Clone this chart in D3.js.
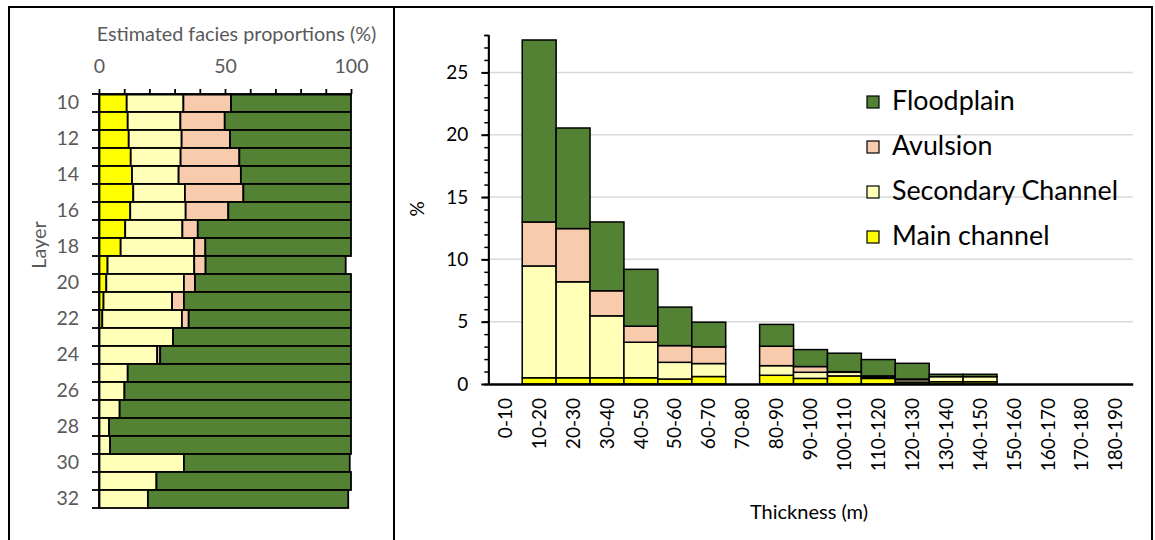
<!DOCTYPE html>
<html><head><meta charset="utf-8">
<script src="https://cdn.jsdelivr.net/npm/d3@7"></script>
<style>
html,body{margin:0;padding:0;background:#fff;}
svg{display:block;font-family:Lato,"Open Sans",sans-serif;}
</style></head>
<body>
<svg id="c" width="1155" height="540"></svg>
<script>
// ---------- Left panel data (layer facies proportions, %) ----------
const layers = [10,11,12,13,14,15,16,17,18,19,20,21,22,23,24,25,26,27,28,29,30,31,32];
const layerMain       = [11,11.4,11.8,12.6,13.1,13.6,12.4,10.4,8.6,3.4,2.9,1.8,1.3,0,0,0,0,0,0,0,0,0,0];
const layerSecondary  = [22.5,20.9,21,19.8,18.5,20.5,22,22.7,29.2,34.4,30.8,27.2,31.6,29.4,23.1,11.4,10.1,8.2,4,4.4,33.7,22.8,19.4];
const layerAvulsion   = [18.9,17.6,19.2,23.3,24.7,23.2,16.9,6.1,4.4,4.5,4.4,4.7,2.7,0,1.2,0,0,0,0,0,0,0,0];
const layerFloodplain = [47.6,50.1,48,44.3,43.7,42.7,48.7,60.8,57.8,55.6,61.9,66.3,64.4,70.6,75.7,88.6,89.9,91.8,96,95.6,65.8,77.2,79.5];
const propTicks = [0,10,20,30,40,50,60,70,80,90,100];
const propLabels = [0,50,100];

// ---------- Right panel data (thickness histogram, %) ----------
const thickCats = ["0-10","10-20","20-30","30-40","40-50","50-60","60-70","70-80","80-90","90-100","100-110","110-120","120-130","130-140","140-150","150-160","160-170","170-180","180-190"];
const thickMain       = [0,0.5,0.5,0.5,0.5,0.4,0.6,0,0.7,0.45,0.65,0.45,0.15,0.18,0.18,0,0,0,0];
const thickSecondary  = [0,8.97,7.7,4.97,2.85,1.34,1.04,0,0.77,0.49,0.29,0.1,0.2,0.41,0.41,0,0,0,0];
const thickAvulsion   = [0,3.53,4.27,2.01,1.29,1.34,1.34,0,1.56,0.46,0.05,0.1,0.05,0,0,0,0,0,0];
const thickFloodplain = [0,14.6,8.07,5.52,4.56,3.09,1.98,0,1.75,1.36,1.48,1.31,1.26,0.19,0.19,0,0,0,0];
const pctMajor = [0,5,10,15,20,25];
const pctMinor = d3.range(0,29,1);

const seriesKeys = ["main","secondary","avulsion","floodplain"];
const seriesNames = {main:"Main channel",secondary:"Secondary Channel",avulsion:"Avulsion",floodplain:"Floodplain"};
const colors = {main:"#FFFF00",secondary:"#FFFFB7",avulsion:"#F8CBAD",floodplain:"#548235"};

const svg = d3.select("#c");

// ---------- Frame ----------
const frame = svg.append("g").attr("stroke","#000").attr("stroke-width",2);
frame.append("line").attr("x1",8).attr("x2",1153).attr("y1",7).attr("y2",7);
frame.append("line").attr("x1",9).attr("x2",9).attr("y1",6).attr("y2",540);
frame.append("line").attr("x1",394).attr("x2",394).attr("y1",6).attr("y2",540);
frame.append("line").attr("x1",1152).attr("x2",1152).attr("y1",6).attr("y2",540);

// ================= LEFT PANEL =================
const gray = "#595959";
const leftRows = layers.map((l,i)=>({layer:l, main:layerMain[i], secondary:layerSecondary[i], avulsion:layerAvulsion[i], floodplain:layerFloodplain[i]}));
const xL = d3.scaleLinear().domain([0,100]).range([99,351]);
const yL = d3.scaleBand().domain(layers).range([94,508]).padding(0);
const stackL = d3.stack().keys(seriesKeys)(leftRows);

const gL = svg.append("g");
stackL.forEach(s=>{
  gL.append("g").selectAll("rect").data(s).join("rect")
    .attr("x",d=>xL(d[0])).attr("y",d=>yL(d.data.layer))
    .attr("width",d=>Math.max(0,xL(d[1])-xL(d[0]))).attr("height",yL.bandwidth())
    .attr("fill",colors[s.key]).attr("stroke","#000").attr("stroke-width",1.8);
});

// top axis
const axTop = gL.append("g").attr("transform","translate(0,94)")
  .call(d3.axisTop(xL).tickValues(propTicks).tickSize(5).tickSizeOuter(0).tickPadding(16)
    .tickFormat(d=>propLabels.includes(d)?d:""));
axTop.selectAll("path,line").attr("stroke","#000").attr("stroke-width",1.8);
axTop.selectAll("text").attr("fill",gray).style("font-size","19.5px").style("font-family","Lato");

// left axis
const axLeft = gL.append("g").attr("transform","translate(99,0)")
  .call(d3.axisLeft(yL).tickSize(0).tickPadding(20).tickFormat(d=>d%2===0?d:""));
axLeft.select("path").attr("stroke","#000").attr("stroke-width",1.8);
axLeft.selectAll("text").attr("fill",gray).style("font-size","19.5px").style("font-family","Lato");
const bounds = layers.map(l=>yL(l)).concat([yL(layers[layers.length-1])+yL.bandwidth()]);
gL.append("g").selectAll("line").data(bounds).join("line")
  .attr("x1",92).attr("x2",99).attr("y1",d=>d).attr("y2",d=>d)
  .attr("stroke","#000").attr("stroke-width",1.8);

gL.append("text").attr("x",236.5).attr("y",40.5).attr("text-anchor","middle")
  .attr("fill",gray).style("font-size","19.8px").text("Estimated facies proportions (%)");
gL.append("text").attr("transform","translate(38,245) rotate(-90)").attr("text-anchor","middle")
  .attr("dominant-baseline","central").attr("fill",gray).style("font-size","19.8px").text("Layer");

// ================= RIGHT PANEL =================
const rightRows = thickCats.map((c,i)=>({cat:c, main:thickMain[i], secondary:thickSecondary[i], avulsion:thickAvulsion[i], floodplain:thickFloodplain[i]}));
const xR = d3.scaleBand().domain(thickCats).range([488.3,1132.7]).padding(0);
const yR = d3.scaleLinear().domain([0,28]).range([384,35]);
const gR = svg.append("g");

// gridlines
gR.append("g").selectAll("line").data(pctMajor.filter(d=>d>0)).join("line")
  .attr("x1",488).attr("x2",1132.7).attr("y1",d=>yR(d)).attr("y2",d=>yR(d))
  .attr("stroke","#d9d9d9").attr("stroke-width",1.5);

const stackR = d3.stack().keys(seriesKeys)(rightRows);
stackR.forEach(s=>{
  gR.append("g").selectAll("rect").data(s.filter(d=>d.data.floodplain+d.data.main>0)).join("rect")
    .attr("x",d=>xR(d.data.cat)).attr("y",d=>yR(d[1]))
    .attr("width",xR.bandwidth()).attr("height",d=>Math.max(0,yR(d[0])-yR(d[1])))
    .attr("fill",colors[s.key]).attr("stroke","#000").attr("stroke-width",1.5);
});

// y axis minor ticks
gR.append("g").attr("transform","translate(488.3,0)")
  .call(d3.axisLeft(yR).tickValues(pctMinor).tickSize(4).tickFormat(""))
  .call(g=>g.selectAll("path,line").attr("stroke","#000").attr("stroke-width",1.5));
// y axis major
const axY = gR.append("g").attr("transform","translate(488.3,0)")
  .call(d3.axisLeft(yR).tickValues(pctMajor).tickSize(7).tickSizeOuter(0).tickPadding(13));
axY.selectAll("path,line").attr("stroke","#000").attr("stroke-width",2);
axY.selectAll("text").attr("fill","#000").style("font-size","19px").style("font-family","Lato");

// x axis
const axX = gR.append("g").attr("transform","translate(0,384)")
  .call(d3.axisBottom(xR).tickSize(0).tickSizeOuter(0));
axX.select("path").attr("stroke","#000").attr("stroke-width",2.5);
axX.selectAll("text").attr("fill","#000").style("font-size","19px").style("font-family","Lato")
  .attr("text-anchor","end").attr("dy","0.35em").attr("y",0)
  .attr("transform","translate(0,14) rotate(-90)");

gR.append("text").attr("transform","translate(416,209) rotate(-90)").attr("text-anchor","middle")
  .attr("dominant-baseline","central").attr("fill","#000").style("font-size","19px").text("%");
gR.append("text").attr("x",809).attr("y",519).attr("text-anchor","middle")
  .attr("fill","#000").style("font-size","20px").text("Thickness (m)");

// legend
const legendOrder = ["floodplain","avulsion","secondary","main"];
const lg = gR.append("g").selectAll("g").data(legendOrder).join("g")
  .attr("transform",(d,i)=>`translate(867,${96+i*45})`);
lg.append("rect").attr("width",12).attr("height",12).attr("fill",d=>colors[d]).attr("stroke","#000").attr("stroke-width",1.2);
lg.append("text").attr("x",25).attr("y",13.5).attr("fill","#000").style("font-size","26.8px").text(d=>seriesNames[d]);
</script>
</body></html>
